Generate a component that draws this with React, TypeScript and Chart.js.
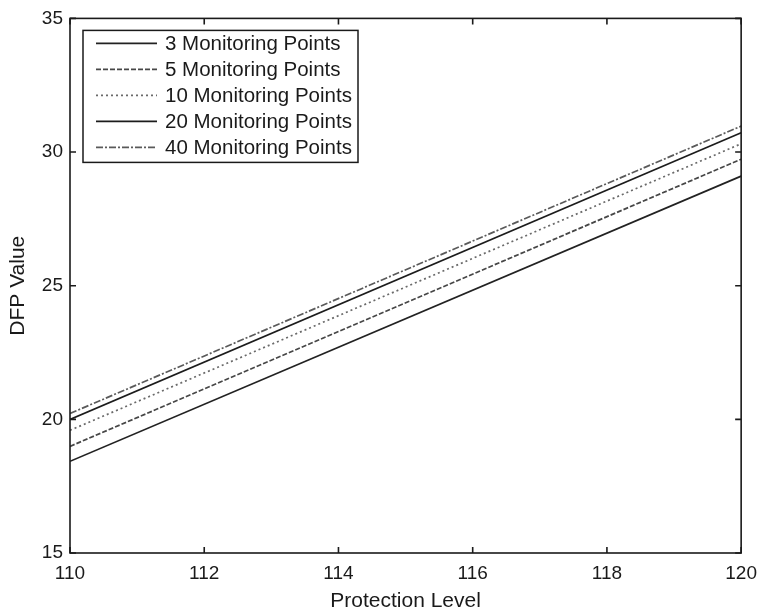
import React, { useEffect, useRef } from "react";
import { Chart, registerables } from "chart.js";

Chart.register(...registerables);

const xValues = [110, 120];
const seriesLabels = [
  "3 Monitoring Points",
  "5 Monitoring Points",
  "10 Monitoring Points",
  "20 Monitoring Points",
  "40 Monitoring Points",
];
const pts3 = [18.43, 29.1];
const pts5 = [18.99, 29.73];
const pts10 = [19.59, 30.31];
const pts20 = [20.0, 30.72];
const pts40 = [20.22, 30.97];
const xTicks = [110, 112, 114, 116, 118, 120];
const yTicks = [15, 20, 25, 30, 35];

const FONT = "'Liberation Sans', Arial, sans-serif";
const seriesValues = [pts3, pts5, pts10, pts20, pts40];
const seriesColors = ["#222222", "#474747", "#6a6a6a", "#1c1c1c", "#5a5a5a"];
const seriesDash = [[], [5, 2], [2, 3], [], [7, 2, 2, 2]];

const framePlugin = {
  id: "frame",
  afterDatasetsDraw(chart: any) {
    const { ctx, chartArea: a, scales } = chart;
    ctx.save();
    ctx.strokeStyle = "#1a1a1a";
    ctx.lineWidth = 1.6;
    ctx.setLineDash([]);
    ctx.strokeRect(a.left, a.top, a.right - a.left, a.bottom - a.top);
    const L = 6;
    ctx.beginPath();
    xTicks.forEach((t) => {
      const x = scales.x.getPixelForValue(t);
      ctx.moveTo(x, a.bottom);
      ctx.lineTo(x, a.bottom - L);
      ctx.moveTo(x, a.top);
      ctx.lineTo(x, a.top + L);
    });
    yTicks.forEach((t) => {
      const y = scales.y.getPixelForValue(t);
      ctx.moveTo(a.left, y);
      ctx.lineTo(a.left + L, y);
      ctx.moveTo(a.right, y);
      ctx.lineTo(a.right - L, y);
    });
    ctx.stroke();

    // legend box
    const bx = a.left + 13;
    const by = a.top + 12;
    const bw = 275;
    const bh = 132;
    ctx.fillStyle = "#ffffff";
    ctx.fillRect(bx, by, bw, bh);
    ctx.strokeStyle = "#1a1a1a";
    ctx.lineWidth = 1.5;
    ctx.strokeRect(bx, by, bw, bh);
    ctx.font = `20.5px ${FONT}`;
    ctx.textBaseline = "middle";
    ctx.textAlign = "left";
    seriesLabels.forEach((lab, i) => {
      const y = by + 13 + i * 26;
      ctx.beginPath();
      ctx.strokeStyle = seriesColors[i];
      ctx.lineWidth = 1.6;
      ctx.setLineDash(seriesDash[i]);
      ctx.moveTo(bx + 13, y);
      ctx.lineTo(bx + 74, y);
      ctx.stroke();
      ctx.setLineDash([]);
      ctx.fillStyle = "#1a1a1a";
      ctx.fillText(lab, bx + 82, y + 1);
    });
    ctx.restore();
  },
};

export default function App() {
  const ref = useRef<HTMLCanvasElement>(null);
  useEffect(() => {
    const canvas = ref.current!;
    const chart = new Chart(canvas, {
      type: "line",
      data: {
        datasets: seriesLabels.map((lab, i) => ({
          label: lab,
          data: xValues.map((x, j) => ({ x, y: seriesValues[i][j] })),
          borderColor: seriesColors[i],
          borderWidth: 1.7,
          borderDash: seriesDash[i],
          pointRadius: 0,
          fill: false,
          tension: 0,
        })),
      },
      options: {
        responsive: false,
        animation: false,
        layout: { padding: { left: 0, top: 18, right: 24, bottom: 0 } },
        plugins: { legend: { display: false }, tooltip: { enabled: false } },
        scales: {
          x: {
            type: "linear",
            min: 110,
            max: 120,
            afterBuildTicks: (s: any) => {
              s.ticks = xTicks.map((v) => ({ value: v }));
            },
            afterFit: (s: any) => {
              s.height = 58;
            },
            grid: { display: false, drawTicks: false },
            border: { display: false },
            ticks: {
              color: "#1a1a1a",
              font: { family: FONT, size: 19 },
              padding: 9,
              maxRotation: 0,
              autoSkip: false,
            },
            title: {
              display: true,
              text: "Protection Level",
              color: "#1a1a1a",
              font: { family: FONT, size: 21, lineHeight: 0.9 },
              padding: { top: 0, bottom: 0 },
            },
          },
          y: {
            type: "linear",
            min: 15,
            max: 35,
            afterBuildTicks: (s: any) => {
              s.ticks = yTicks.map((v) => ({ value: v }));
            },
            afterFit: (s: any) => {
              s.width = 70;
            },
            grid: { display: false, drawTicks: false },
            border: { display: false },
            ticks: {
              color: "#1a1a1a",
              font: { family: FONT, size: 19 },
              padding: 7,
              autoSkip: false,
            },
            title: {
              display: true,
              text: "DFP Value",
              color: "#1a1a1a",
              font: { family: FONT, size: 21 },
              padding: { top: 6, bottom: 0 },
            },
          },
        },
      },
      plugins: [framePlugin],
    } as any);
    return () => chart.destroy();
  }, []);
  return (
    <div style={{ position: "absolute", left: 0, top: 0, width: 766, height: 611, background: "#fff" }}>
      <canvas ref={ref} width={766} height={611} />
    </div>
  );
}
